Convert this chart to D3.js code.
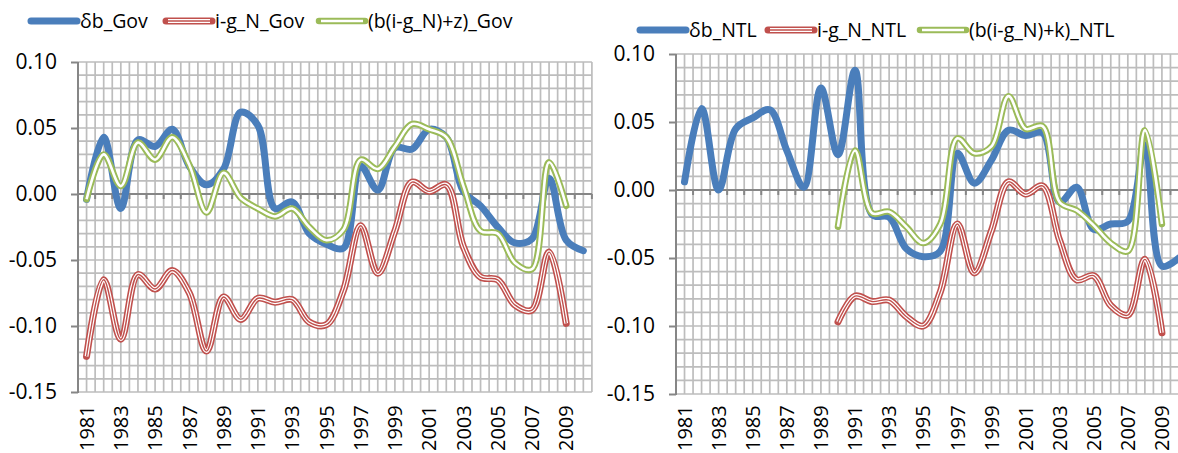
<!DOCTYPE html>
<html>
<head>
<meta charset="utf-8">
<script src="https://cdn.jsdelivr.net/npm/d3@7"></script>
<style>
    body { margin: 0; background: #fff; }
    text { font-family: "Open Sans", sans-serif; fill: #000; }
</style>
</head>
<body>
<svg id="chart" width="1178" height="453"></svg>
<script>
var years = [1981, 1982, 1983, 1984, 1985, 1986, 1987, 1988, 1989, 1990,
             1991, 1992, 1993, 1994, 1995, 1996, 1997, 1998, 1999, 2000,
             2001, 2002, 2003, 2004, 2005, 2006, 2007, 2008, 2009, 2010];

var yTicks = [-0.15, -0.10, -0.05, 0.00, 0.05, 0.10];

// left panel: government
var govDb = [-0.004, 0.043, -0.011, 0.041, 0.036, 0.049, 0.021, 0.007, 0.019, 0.062,
             0.052, -0.011, -0.006, -0.030, -0.038, -0.041, 0.021, 0.003, 0.035, 0.034,
             0.049, 0.043, 0.002, -0.009, -0.025, -0.037, -0.034, 0.012, -0.035, -0.043];
var govRate = [-0.123, -0.065, -0.110, -0.061, -0.072, -0.058, -0.075, -0.119, -0.078, -0.095,
               -0.079, -0.082, -0.080, -0.097, -0.099, -0.073, -0.024, -0.060, -0.028, 0.009,
               0.002, 0.007, -0.040, -0.063, -0.065, -0.084, -0.088, -0.044, -0.098, null];
var govFit = [-0.004, 0.030, 0.006, 0.039, 0.026, 0.043, 0.022, -0.014, 0.016, -0.003,
              -0.011, -0.017, -0.011, -0.025, -0.035, -0.027, 0.026, 0.019, 0.036, 0.053,
              0.049, 0.043, 0.006, -0.028, -0.030, -0.052, -0.057, 0.024, -0.009, null];
var govNames = ['δb_Gov', 'i-g_N_Gov', '(b(i-g_N)+z)_Gov'];

// right panel: NTL
var ntlDb = [0.006, 0.060, 0.000, 0.045, 0.053, 0.059, 0.029, 0.002, 0.075, 0.026,
             0.088, -0.018, -0.020, -0.043, -0.049, -0.045, 0.027, 0.005, 0.022, 0.044,
             0.040, 0.042, -0.009, 0.002, -0.029, -0.025, -0.023, 0.033, -0.056, -0.050];
var ntlRate = [null, null, null, null, null, null, null, null, null, -0.097,
               -0.078, -0.082, -0.081, -0.093, -0.100, -0.075, -0.025, -0.061, -0.030, 0.006,
               -0.003, 0.003, -0.037, -0.066, -0.063, -0.085, -0.092, -0.051, -0.105, null];
var ntlFit = [null, null, null, null, null, null, null, null, null, -0.027,
              0.029, -0.017, -0.016, -0.027, -0.039, -0.025, 0.038, 0.027, 0.032, 0.069,
              0.045, 0.047, -0.009, -0.015, -0.026, -0.039, -0.045, 0.044, -0.025, null];
var ntlNames = ['δb_NTL', 'i-g_N_NTL', '(b(i-g_N)+k)_NTL'];

var BLUE = '#4a7ebb', RED = '#c0504d', GREEN = '#9bbb59';
var GRID = '#bdbdbd', AXIS = '#868686';

var svg = d3.select('#chart');

// stroke layers for each series style (outer first)
var styles = [
    [{c: BLUE, w: 7}],
    [{c: RED, w: 7}, {c: '#fff', w: 3.8}, {c: RED, w: 1.4}],
    [{c: GREEN, w: 6.5}, {c: '#fff', w: 2.6}]
];

function drawPanel(opt) {
    var g = svg.append('g');
    var x = d3.scaleBand().domain(years).range([opt.x0, opt.x1]).padding(0);
    var y = d3.scaleLinear().domain([-0.15, 0.10]).range([opt.yBot, opt.yTop]);
    var bw = x.bandwidth();

    // horizontal grid every 0.01
    g.selectAll('.hgrid').data(y.ticks(25)).enter().append('line')
        .attr('x1', opt.x0).attr('x2', opt.x1)
        .attr('y1', function (d) { return y(d); })
        .attr('y2', function (d) { return y(d); })
        .attr('stroke', GRID).attr('stroke-width', 1.7);

    // vertical grid at band edges and centres
    var vx = [];
    years.forEach(function (yr) { vx.push(x(yr)); vx.push(x(yr) + bw / 2); });
    vx.push(opt.x1);
    g.selectAll('.vgrid').data(vx).enter().append('line')
        .attr('x1', function (d) { return d; }).attr('x2', function (d) { return d; })
        .attr('y1', opt.yTop).attr('y2', opt.yBot)
        .attr('stroke', GRID).attr('stroke-width', 1.7);

    // value axis
    var yAxis = g.append('g')
        .attr('transform', 'translate(' + opt.x0 + ',0)')
        .call(d3.axisLeft(y).tickValues(yTicks).tickSize(7).tickPadding(14)
            .tickFormat(function (d) { return d.toFixed(2); }));
    yAxis.select('.domain').remove();
    yAxis.selectAll('.tick line').attr('stroke', AXIS).attr('stroke-width', 2);
    yAxis.selectAll('.tick text').style('font-size', '21px').attr('fill', '#000')
        .style('font-family', '"Open Sans", sans-serif');
    g.append('line')
        .attr('x1', opt.x0).attr('x2', opt.x0)
        .attr('y1', opt.yTop).attr('y2', opt.yBot + 1)
        .attr('stroke', AXIS).attr('stroke-width', 2);

    // category axis crossing at zero
    var y0 = y(0);
    g.append('line')
        .attr('x1', opt.x0).attr('x2', opt.x1)
        .attr('y1', y0).attr('y2', y0)
        .attr('stroke', AXIS).attr('stroke-width', 2);
    var edges = years.map(function (yr) { return x(yr); }).concat([opt.x1]);
    g.selectAll('.xtick').data(edges).enter().append('line')
        .attr('x1', function (d) { return d; }).attr('x2', function (d) { return d; })
        .attr('y1', y0).attr('y2', y0 + 5)
        .attr('stroke', AXIS).attr('stroke-width', 2);

    // category labels below the plot, every other year
    g.selectAll('.xlab').data(years.filter(function (d, i) { return i % 2 === 0; }))
        .enter().append('text')
        .attr('transform', function (d) {
            return 'translate(' + (x(d) + bw / 2) + ',' + (453 - 2) + ') rotate(-90)';
        })
        .attr('dy', '0.36em')
        .attr('text-anchor', 'start')
        .style('font-size', '20px')
        .text(function (d) { return d; });

    // series
    var line = d3.line()
        .defined(function (d) { return d[1] !== null; })
        .x(function (d) { return x(d[0]) + bw / 2; })
        .y(function (d) { return y(d[1]); })
        .curve(d3.curveCatmullRom);

    opt.series.forEach(function (vals, si) {
        var pts = years.map(function (yr, i) { return [yr, vals[i]]; });
        styles[si].forEach(function (s, li) {
            g.append('path')
                .attr('d', line(pts))
                .attr('fill', 'none')
                .attr('stroke', s.c)
                .attr('stroke-width', s.w)
                .attr('stroke-linejoin', 'round')
                .attr('stroke-linecap', li === 0 ? 'round' : 'butt');
        });
    });

    // legend
    opt.names.forEach(function (name, si) {
        var lx = opt.legendX[si], ly = opt.legendY;
        styles[si].forEach(function (s, li) {
            g.append('line')
                .attr('x1', lx + (li ? 2 : 0)).attr('x2', lx + 46 - (li ? 2 : 0))
                .attr('y1', ly).attr('y2', ly)
                .attr('stroke', s.c).attr('stroke-width', s.w)
                .attr('stroke-linecap', li === 0 ? 'round' : 'butt');
        });
        g.append('text')
            .attr('x', lx + 49).attr('y', ly)
            .attr('dy', '0.35em')
            .style('font-size', '19.5px')
            .text(name);
    });
}

drawPanel({
    x0: 78, x1: 78 + 30 * 17.13, yTop: 62, yBot: 392,
    legendX: [31, 166, 319], legendY: 21,
    series: [govDb, govRate, govFit], names: govNames
});

drawPanel({
    x0: 676, x1: 676 + 30 * 17.05, yTop: 54, yBot: 394,
    legendX: [640, 768, 920], legendY: 30,
    series: [ntlDb, ntlRate, ntlFit], names: ntlNames
});
</script>
</body>
</html>
